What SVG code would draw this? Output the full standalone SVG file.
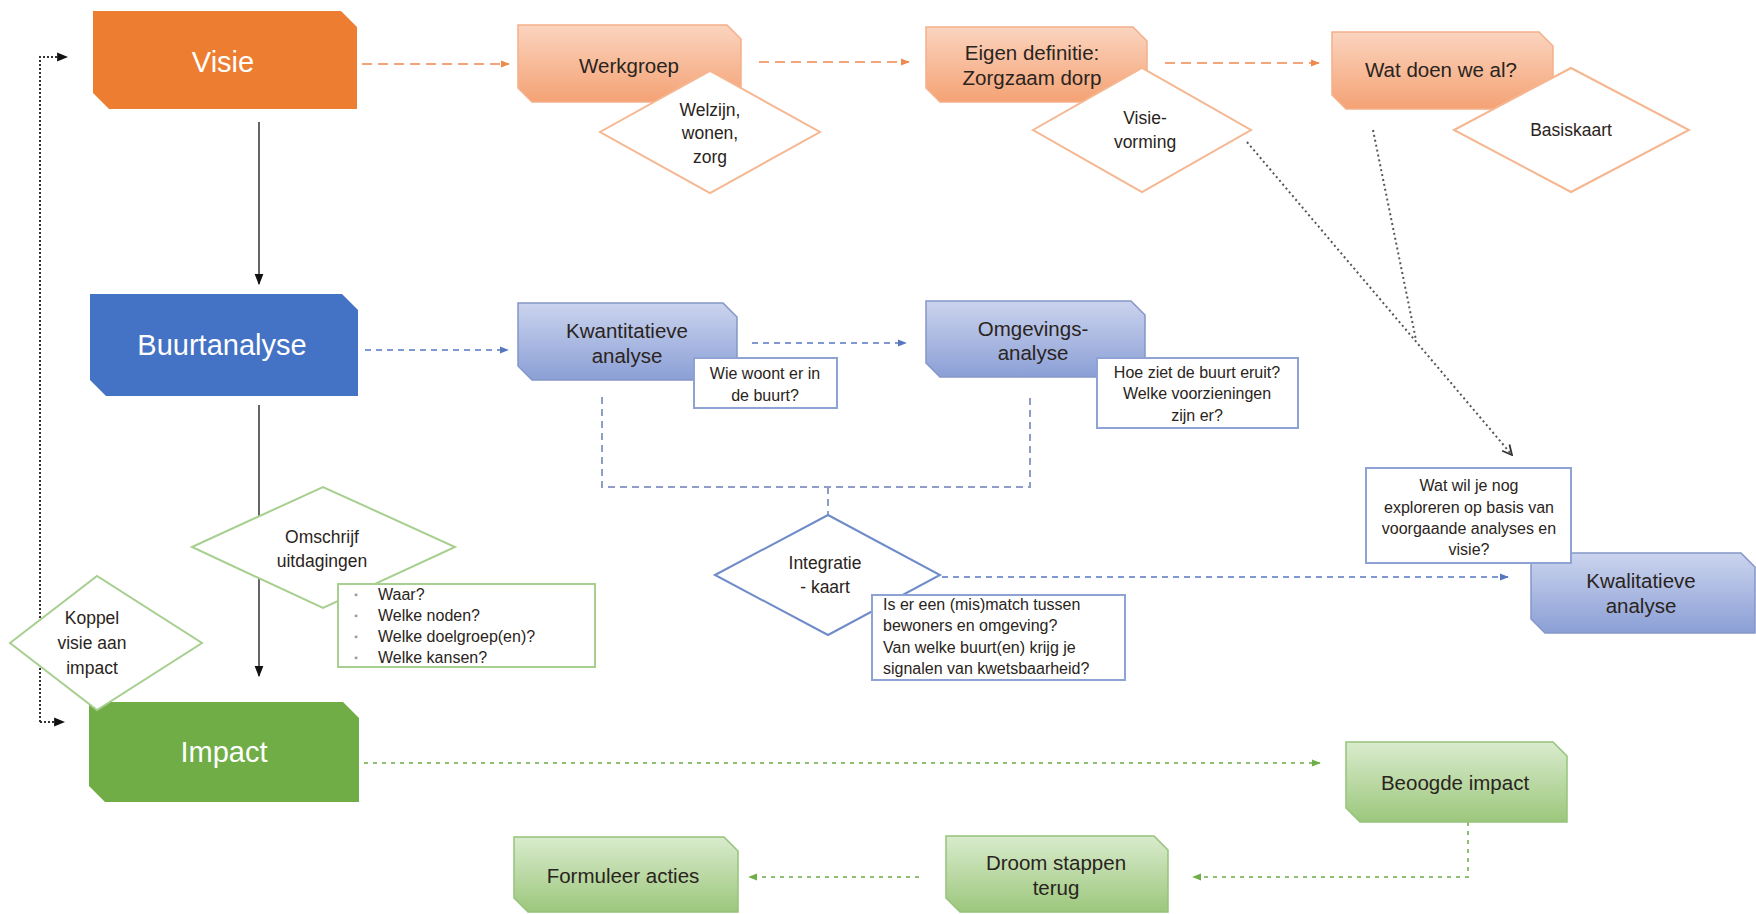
<svg xmlns="http://www.w3.org/2000/svg" width="1756" height="914" viewBox="0 0 1756 914">
<defs>
<linearGradient id="gO" x1="0" y1="0" x2="0" y2="1"><stop offset="0" stop-color="#fbd4bf"/><stop offset="1" stop-color="#f4a274"/></linearGradient>
<linearGradient id="gB" x1="0" y1="0" x2="0" y2="1"><stop offset="0" stop-color="#cbd4ee"/><stop offset="1" stop-color="#8b9fd6"/></linearGradient>
<linearGradient id="gG" x1="0" y1="0" x2="0" y2="1"><stop offset="0" stop-color="#d9ebcd"/><stop offset="1" stop-color="#9cc77c"/></linearGradient>
<marker id="aO" viewBox="0 0 10 10" refX="9" refY="5" markerWidth="9" markerHeight="9" markerUnits="userSpaceOnUse" orient="auto"><path d="M0,1 L10,5 L0,9 Z" fill="#ef8a4d"/></marker>
<marker id="aB" viewBox="0 0 10 10" refX="9" refY="5" markerWidth="9" markerHeight="9" markerUnits="userSpaceOnUse" orient="auto"><path d="M0,1 L10,5 L0,9 Z" fill="#5677c0"/></marker>
<marker id="aG" viewBox="0 0 10 10" refX="9" refY="5" markerWidth="9" markerHeight="9" markerUnits="userSpaceOnUse" orient="auto"><path d="M0,1 L10,5 L0,9 Z" fill="#6fae48"/></marker>
<marker id="aK" viewBox="0 0 10 10" refX="9" refY="5" markerWidth="11" markerHeight="11" markerUnits="userSpaceOnUse" orient="auto"><path d="M0,1 L10,5 L0,9 Z" fill="#111"/></marker>
<marker id="aV" viewBox="0 0 10 10" refX="9" refY="5" markerWidth="12" markerHeight="12" markerUnits="userSpaceOnUse" orient="auto"><path d="M1,1 L9,5 L1,9" fill="none" stroke="#333" stroke-width="1.5"/></marker>
</defs>
<style>
text{font-family:"Liberation Sans",Arial,sans-serif;text-anchor:middle;dominant-baseline:central;fill:#2a2420}
.main{font-size:29px;fill:#fff}
.sec{font-size:20.5px}
.dia{font-size:17.5px}
.sm{font-size:16px}
.mO{fill:#ed7d31}
.mB{fill:#4472c4}
.mG{fill:#70ad47}
.sO{fill:url(#gO);stroke:#f3b08b;stroke-width:1.5}
.sB{fill:url(#gB);stroke:#8496c8;stroke-width:1.5}
.sG{fill:url(#gG);stroke:#95c37a;stroke-width:1.5}
.dO{fill:#fff;stroke:#f5b690;stroke-width:2}
.dG{fill:#fff;stroke:#a7cf8f;stroke-width:2}
.dB{fill:#fff;stroke:#6f8cc9;stroke-width:2}
.bB{fill:#fff;stroke:#8ea2d3;stroke-width:2}
.bG{fill:#fff;stroke:#a7cf8f;stroke-width:2}
.cO{fill:none;stroke:#f2a57c;stroke-width:2;stroke-dasharray:10 6}
.cB{fill:none;stroke:#7f98d2;stroke-width:2;stroke-dasharray:6 5}
.cBr{fill:none;stroke:#8d9dc6;stroke-width:2;stroke-dasharray:7 5}
.cG{fill:none;stroke:#8fc072;stroke-width:2;stroke-dasharray:4 5}
.cK{fill:none;stroke:#666;stroke-width:2}
.cL{fill:none;stroke:#333;stroke-width:2;stroke-dasharray:2 2}
.cD{fill:none;stroke:#555;stroke-width:2;stroke-dasharray:2 3}
</style>
<rect width="1756" height="914" fill="#fff"/>
<g id="connectors">
<path class="cO" d="M362 64 H509" marker-end="url(#aO)"/>
<path class="cO" d="M759 62 H909" marker-end="url(#aO)"/>
<path class="cO" d="M1165 63 H1319" marker-end="url(#aO)"/>
<path class="cK" d="M259 122 V284" marker-end="url(#aK)"/>
<path class="cK" d="M259 405 V676" marker-end="url(#aK)"/>
<path class="cB" d="M365 350 H508" marker-end="url(#aB)"/>
<path class="cB" d="M752 343 H906" marker-end="url(#aB)"/>
<path class="cBr" d="M602 397 V487 H1030 V397 M828 487 V515"/>
<path class="cB" d="M942 577 H1508" marker-end="url(#aB)"/>
<path class="cD" d="M1247 142 L1512 455" marker-end="url(#aV)"/>
<path class="cD" d="M1373 130 L1416 340"/>
<path class="cL" d="M40 722 V57 H67" marker-end="url(#aK)"/>
<path class="cL" d="M40 722 H64" marker-end="url(#aK)"/>
<path class="cG" d="M364 763 H1320" marker-end="url(#aG)"/>
<path class="cG" d="M1468 822 V877 H1193" marker-end="url(#aG)"/>
<path class="cG" d="M919 877 H749" marker-end="url(#aG)"/>
</g>
<g id="visie"><path class="mO" d="M93 11 H341 L357 27 V109 H109 L93 93 Z"/><text class="main" x="223" y="62">Visie</text></g>
<g id="werkgroep"><path class="sO" d="M518 25 H727 L741 39 V102 H532 L518 88 Z"/><text class="sec" x="629" y="65">Werkgroep</text></g>
<g id="welzijn"><path class="dO" d="M600 132 L710 71 L820 132 L710 193 Z"/><text class="dia" x="710" y="110">Welzijn,</text><text class="dia" x="710" y="133">wonen,</text><text class="dia" x="710" y="157">zorg</text></g>
<g id="eigen"><path class="sO" d="M926 27 H1133 L1147 41 V102 H940 L926 88 Z"/><text class="sec" x="1032" y="52">Eigen definitie:</text><text class="sec" x="1032" y="77">Zorgzaam dorp</text></g>
<g id="visievorming"><path class="dO" d="M1033 130 L1142 68 L1251 130 L1142 192 Z"/><text class="dia" x="1145" y="118">Visie-</text><text class="dia" x="1145" y="142">vorming</text></g>
<g id="watdoen"><path class="sO" d="M1332 32 H1539 L1553 46 V109 H1346 L1332 95 Z"/><text class="sec" x="1441" y="69">Wat doen we al?</text></g>
<g id="basiskaart"><path class="dO" d="M1454 130 L1571 68 L1689 130 L1571 192 Z"/><text class="dia" x="1571" y="130">Basiskaart</text></g>
<g id="buurtanalyse"><path class="mB" d="M90 294 H342 L358 310 V396 H106 L90 380 Z"/><text class="main" x="222" y="345">Buurtanalyse</text></g>
<g id="kwantitatieve"><path class="sB" d="M518 303 H723 L737 317 V380 H532 L518 366 Z"/><text class="sec" x="627" y="330">Kwantitatieve</text><text class="sec" x="627" y="355">analyse</text></g>
<g id="wiewoont"><rect class="bB" x="694" y="358" width="143" height="50"/><text class="sm" x="765" y="373">Wie woont er in</text><text class="sm" x="765" y="395">de buurt?</text></g>
<g id="omgevings"><path class="sB" d="M926 301 H1131 L1145 315 V377 H940 L926 363 Z"/><text class="sec" x="1033" y="328">Omgevings-</text><text class="sec" x="1033" y="352">analyse</text></g>
<g id="hoeziet"><rect class="bB" x="1097" y="358" width="201" height="70"/><text class="sm" x="1197" y="372">Hoe ziet de buurt eruit?</text><text class="sm" x="1197" y="393">Welke voorzieningen</text><text class="sm" x="1197" y="415">zijn er?</text></g>
<g id="integratie"><path class="dB" d="M715 575 L828 515 L940 575 L828 635 Z"/><text class="dia" x="825" y="563">Integratie</text><text class="dia" x="825" y="587">- kaart</text></g>
<g id="iserer"><rect class="bB" x="872" y="595" width="253" height="85"/><text class="sm" x="883" y="604" style="text-anchor:start">Is er een (mis)match tussen</text><text class="sm" x="883" y="625" style="text-anchor:start">bewoners en omgeving?</text><text class="sm" x="883" y="647" style="text-anchor:start">Van welke buurt(en) krijg je</text><text class="sm" x="883" y="668" style="text-anchor:start">signalen van kwetsbaarheid?</text></g>
<g id="kwalitatieve"><path class="sB" d="M1531 553 H1741 L1755 567 V633 H1545 L1531 619 Z"/><text class="sec" x="1641" y="580">Kwalitatieve</text><text class="sec" x="1641" y="605">analyse</text></g>
<g id="watwil"><rect class="bB" x="1366" y="468" width="205" height="95"/><text class="sm" x="1469" y="485">Wat wil je nog</text><text class="sm" x="1469" y="507">exploreren op basis van</text><text class="sm" x="1469" y="528">voorgaande analyses en</text><text class="sm" x="1469" y="549">visie?</text></g>
<g id="omschrijf"><path class="dG" d="M192 547 L323 487 L455 547 L323 608 Z"/><text class="dia" x="322" y="537">Omschrijf</text><text class="dia" x="322" y="561">uitdagingen</text></g>
<g id="waar"><rect class="bG" x="338" y="584" width="257" height="83"/><g style="font-size:15.5px"><text x="356" y="594" style="fill:#999;font-size:10px">▪</text><text x="356" y="615" style="fill:#999;font-size:10px">▪</text><text x="356" y="636" style="fill:#999;font-size:10px">▪</text><text x="356" y="657" style="fill:#999;font-size:10px">▪</text><text class="sm" x="378" y="594" style="text-anchor:start">Waar?</text><text class="sm" x="378" y="615" style="text-anchor:start">Welke noden?</text><text class="sm" x="378" y="636" style="text-anchor:start">Welke doelgroep(en)?</text><text class="sm" x="378" y="657" style="text-anchor:start">Welke kansen?</text></g></g>
<g id="impact"><path class="mG" d="M89 702 H343 L359 718 V802 H105 L89 786 Z"/><text class="main" x="224" y="752">Impact</text></g>
<g id="koppel"><path class="dG" d="M10 643 L97 576 L202 643 L97 710 Z"/><text class="dia" x="92" y="618">Koppel</text><text class="dia" x="92" y="643">visie aan</text><text class="dia" x="92" y="668">impact</text></g>
<g id="beoogde"><path class="sG" d="M1346 742 H1553 L1567 756 V822 H1360 L1346 808 Z"/><text class="sec" x="1455" y="782">Beoogde impact</text></g>
<g id="droom"><path class="sG" d="M946 836 H1154 L1168 850 V912 H960 L946 898 Z"/><text class="sec" x="1056" y="862">Droom stappen</text><text class="sec" x="1056" y="887">terug</text></g>
<g id="formuleer"><path class="sG" d="M514 837 H724 L738 851 V912 H528 L514 898 Z"/><text class="sec" x="623" y="875">Formuleer acties</text></g>
</svg>
